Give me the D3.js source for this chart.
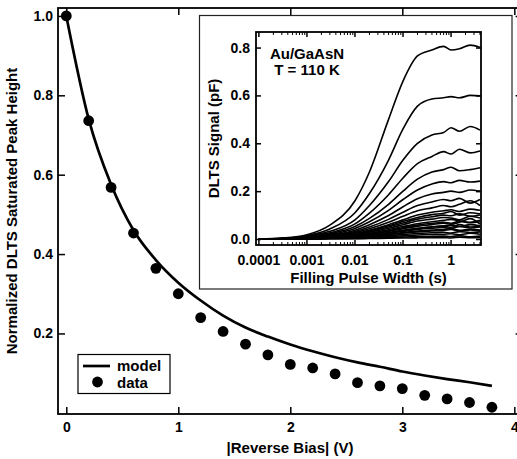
<!DOCTYPE html>
<html>
<head>
<meta charset="utf-8">
<script src="https://cdn.jsdelivr.net/npm/d3@7"></script>
<style>
  body { margin: 0; background: #fff; }
  text { font-family: "Liberation Sans", Arial, sans-serif; font-weight: bold; fill: #000; }
</style>
</head>
<body>
<div class="chart"></div>
<script>
// main plot: saturated peak height vs reverse bias
const biasV = [0, 0.2, 0.4, 0.6, 0.8, 1.0, 1.2, 1.4, 1.6, 1.8, 2.0, 2.2, 2.4, 2.6, 2.8, 3.0, 3.2, 3.4, 3.6, 3.8];
const peakData = [1.0, 0.736, 0.568, 0.453, 0.364, 0.300, 0.240, 0.205, 0.173, 0.146, 0.122, 0.113, 0.098, 0.076, 0.068, 0.061, 0.044, 0.035, 0.026, 0.014];
const peakModel = [1.0, 0.74, 0.575, 0.46, 0.385, 0.328, 0.283, 0.245, 0.215, 0.192, 0.172, 0.155, 0.140, 0.127, 0.116, 0.104, 0.094, 0.085, 0.077, 0.068];
const biasTicks = [0, 1, 2, 3, 4];
const heightTicks = [0.2, 0.4, 0.6, 0.8, 1.0];

// inset: DLTS signal vs filling pulse width, one curve per bias
const pulseWidth = [0.0001, 0.0003, 0.001, 0.003, 0.01, 0.02, 0.05, 0.1, 0.2, 0.4, 0.7, 1, 1.5, 2.5, 4];
const pulseCurves = [
  [0.000, 0.004, 0.018, 0.058, 0.160, 0.280, 0.500, 0.660, 0.765, 0.790, 0.805, 0.790, 0.795, 0.810, 0.800],
  [0.000, 0.003, 0.014, 0.042, 0.110, 0.190, 0.330, 0.460, 0.555, 0.585, 0.590, 0.595, 0.590, 0.600, 0.598],
  [0.000, 0.002, 0.011, 0.032, 0.080, 0.140, 0.240, 0.330, 0.400, 0.435, 0.445, 0.465, 0.450, 0.470, 0.455],
  [0.000, 0.002, 0.009, 0.026, 0.063, 0.108, 0.185, 0.255, 0.315, 0.345, 0.365, 0.355, 0.375, 0.360, 0.368],
  [0.000, 0.002, 0.008, 0.022, 0.052, 0.086, 0.145, 0.200, 0.250, 0.280, 0.290, 0.300, 0.285, 0.290, 0.298],
  [0.000, 0.001, 0.007, 0.019, 0.044, 0.072, 0.120, 0.165, 0.205, 0.230, 0.240, 0.235, 0.245, 0.238, 0.242],
  [0.000, 0.001, 0.006, 0.016, 0.037, 0.060, 0.098, 0.135, 0.168, 0.188, 0.195, 0.200, 0.195, 0.205, 0.200],
  [0.000, 0.001, 0.005, 0.014, 0.031, 0.050, 0.082, 0.112, 0.140, 0.155, 0.165, 0.160, 0.170, 0.150, 0.165],
  [0.000, 0.001, 0.005, 0.012, 0.027, 0.043, 0.070, 0.095, 0.118, 0.130, 0.140, 0.135, 0.145, 0.160, 0.140],
  [0.000, 0.001, 0.004, 0.011, 0.023, 0.037, 0.060, 0.080, 0.100, 0.112, 0.118, 0.122, 0.115, 0.125, 0.120],
  [0.000, 0.001, 0.004, 0.010, 0.021, 0.034, 0.055, 0.073, 0.090, 0.102, 0.108, 0.115, 0.100, 0.110, 0.105],
  [0.000, 0.001, 0.004, 0.009, 0.020, 0.031, 0.050, 0.067, 0.083, 0.093, 0.100, 0.097, 0.105, 0.095, 0.100],
  [0.000, 0.001, 0.003, 0.008, 0.018, 0.028, 0.045, 0.060, 0.075, 0.083, 0.090, 0.088, 0.080, 0.095, 0.088],
  [0.000, 0.000, 0.003, 0.007, 0.015, 0.024, 0.039, 0.052, 0.064, 0.072, 0.078, 0.082, 0.075, 0.070, 0.078],
  [0.000, 0.000, 0.003, 0.006, 0.014, 0.022, 0.035, 0.047, 0.058, 0.065, 0.070, 0.066, 0.075, 0.068, 0.072],
  [0.000, 0.000, 0.002, 0.006, 0.013, 0.020, 0.032, 0.043, 0.053, 0.060, 0.066, 0.062, 0.070, 0.085, 0.062],
  [0.000, 0.000, 0.002, 0.005, 0.011, 0.017, 0.027, 0.036, 0.045, 0.051, 0.055, 0.058, 0.052, 0.060, 0.055],
  [0.000, 0.000, 0.002, 0.004, 0.010, 0.016, 0.026, 0.035, 0.043, 0.050, 0.054, 0.049, 0.060, 0.050, 0.052],
  [0.000, 0.000, 0.002, 0.004, 0.010, 0.015, 0.024, 0.032, 0.040, 0.045, 0.048, 0.044, 0.052, 0.046, 0.050],
  [0.000, 0.000, 0.001, 0.004, 0.008, 0.012, 0.020, 0.027, 0.033, 0.037, 0.040, 0.043, 0.036, 0.041, 0.038],
  [0.000, 0.000, 0.001, 0.003, 0.007, 0.011, 0.018, 0.024, 0.030, 0.034, 0.036, 0.040, 0.033, 0.038, 0.035],
  [0.000, 0.000, 0.001, 0.003, 0.006, 0.009, 0.014, 0.019, 0.023, 0.026, 0.028, 0.025, 0.031, 0.027, 0.030],
  [0.000, 0.000, 0.001, 0.002, 0.004, 0.006, 0.010, 0.013, 0.017, 0.019, 0.020, 0.022, 0.018, 0.024, 0.020],
  [0.000, 0.000, 0.000, 0.001, 0.002, 0.004, 0.006, 0.008, 0.010, 0.011, 0.012, 0.010, 0.014, 0.009, 0.012],
  [0.000, 0.000, 0.000, 0.001, 0.001, 0.002, 0.003, 0.004, 0.005, 0.006, 0.006, 0.004, 0.008, 0.005, 0.006]
];
const pulseTicks = [0.0001, 0.001, 0.01, 0.1, 1];
const pulseTickLabels = ["0.0001", "0.001", "0.01", "0.1", "1"];
const signalTicks = [0, 0.2, 0.4, 0.6, 0.8];

const W = 517, H = 459;
const svg = d3.select(".chart").append("svg").attr("width", W).attr("height", H);

// ---- main plot ----
const x = d3.scaleLinear().domain([-0.074, 4.074]).range([58, 522.6]);
const y = d3.scaleLinear().domain([-0.003, 1.02]).range([414, 8]);

const main = svg.append("g");

main.append("g").attr("transform", "translate(0,414)")
  .call(d3.axisBottom(x).tickValues(biasTicks).tickSize(-7).tickPadding(8).tickFormat(d3.format("d")));
main.append("g").attr("transform", "translate(0,8)")
  .call(d3.axisTop(x).tickValues(biasTicks).tickSize(-7).tickFormat(""));
main.append("g").attr("transform", "translate(58,0)")
  .call(d3.axisLeft(y).tickValues(heightTicks).tickSize(-7).tickPadding(5).tickFormat(d3.format(".1f")));
main.append("g").attr("transform", "translate(522.6,0)")
  .call(d3.axisRight(y).tickValues(heightTicks).tickSize(-7).tickFormat(""));

main.selectAll(".domain").remove();
main.selectAll(".tick line").attr("stroke", "#000").attr("stroke-width", 1.5);
main.selectAll(".tick text").attr("font-size", 14).attr("font-family", "Liberation Sans, Arial").attr("font-weight", "bold");

main.append("rect")
  .attr("x", 58).attr("y", 8).attr("width", 522.6 - 58).attr("height", 414 - 8)
  .attr("fill", "none").attr("stroke", "#000").attr("stroke-width", 1.8);

main.append("path")
  .datum(biasV.map((v, i) => [v, peakModel[i]]))
  .attr("fill", "none").attr("stroke", "#000").attr("stroke-width", 2.7)
  .attr("d", d3.line().x(d => x(d[0])).y(d => y(d[1])).curve(d3.curveMonotoneX));

main.selectAll("circle.pt")
  .data(biasV.map((v, i) => [v, peakData[i]]))
  .join("circle").attr("class", "pt")
  .attr("cx", d => x(d[0])).attr("cy", d => y(d[1])).attr("r", 5.4).attr("fill", "#000");

main.append("text").attr("x", 290).attr("y", 453).attr("text-anchor", "middle")
  .attr("font-size", 15).text("|Reverse Bias| (V)");
main.append("text").attr("transform", "translate(17,211) rotate(-90)").attr("text-anchor", "middle")
  .attr("font-size", 15).text("Normalized DLTS Saturated Peak Height");

// legend
const leg = main.append("g");
leg.append("rect").attr("x", 78).attr("y", 354.5).attr("width", 92).attr("height", 39)
  .attr("fill", "#fff").attr("stroke", "#000").attr("stroke-width", 1.2);
leg.append("line").attr("x1", 83).attr("x2", 110).attr("y1", 366).attr("y2", 366)
  .attr("stroke", "#000").attr("stroke-width", 2.7);
leg.append("circle").attr("cx", 97.5).attr("cy", 382).attr("r", 5.4).attr("fill", "#000");
leg.append("text").attr("x", 117).attr("y", 370.5).attr("font-size", 15).text("model");
leg.append("text").attr("x", 117).attr("y", 387.5).attr("font-size", 15).text("data");

// ---- inset ----
const inset = svg.append("g");
inset.append("rect").attr("x", 199.5).attr("y", 15.5).attr("width", 312.5).attr("height", 273.5)
  .attr("fill", "#fff").attr("stroke", "#222").attr("stroke-width", 1.2);

const ix = d3.scaleLog().domain([8.7e-5, 4.2]).range([256, 481]);
const iy = d3.scaleLinear().domain([-0.025, 0.865]).range([245, 32]);

const minorTicks = [];
pulseTicks.forEach(t => { for (let k = 2; k <= 9; k++) if (t * k <= 4.2) minorTicks.push(t * k); });

function xTicks(g, yPos, dir) {
  g.selectAll("line.maj").data(pulseTicks).join("line").attr("class", "maj")
    .attr("x1", d => ix(d)).attr("x2", d => ix(d)).attr("y1", yPos).attr("y2", yPos + dir * 5)
    .attr("stroke", "#000").attr("stroke-width", 1.5);
  g.selectAll("line.min").data(minorTicks).join("line").attr("class", "min")
    .attr("x1", d => ix(d)).attr("x2", d => ix(d)).attr("y1", yPos).attr("y2", yPos + dir * 3)
    .attr("stroke", "#000").attr("stroke-width", 1);
}
xTicks(inset.append("g"), 245, -1);
xTicks(inset.append("g"), 32, 1);

inset.append("g").attr("transform", "translate(256,0)")
  .call(d3.axisLeft(iy).tickValues(signalTicks).tickSize(-5).tickPadding(6).tickFormat(d3.format(".1f")));
inset.append("g").attr("transform", "translate(481,0)")
  .call(d3.axisRight(iy).tickValues(signalTicks).tickSize(-5).tickFormat(""));
inset.selectAll(".domain").remove();
inset.selectAll(".tick line").attr("stroke", "#000").attr("stroke-width", 1.5);
inset.selectAll(".tick text").attr("font-size", 14).attr("font-family", "Liberation Sans, Arial").attr("font-weight", "bold");

inset.selectAll("text.xl").data(pulseTicks).join("text").attr("class", "xl")
  .attr("x", d => ix(d)).attr("y", 265).attr("text-anchor", "middle").attr("font-size", 14)
  .text((d, i) => pulseTickLabels[i]);

const clip = inset.append("clipPath").attr("id", "iclip");
clip.append("rect").attr("x", 256).attr("y", 32).attr("width", 225).attr("height", 213);

const curveG = inset.append("g").attr("clip-path", "url(#iclip)");
curveG.selectAll("path").data(pulseCurves).join("path")
  .attr("fill", "none").attr("stroke", "#000").attr("stroke-width", 1.6)
  .attr("d", d3.line().x((d, i) => ix(pulseWidth[i])).y(d => iy(d)).curve(d3.curveMonotoneX));

inset.append("rect").attr("x", 256).attr("y", 32).attr("width", 225).attr("height", 213)
  .attr("fill", "none").attr("stroke", "#000").attr("stroke-width", 1.8);

inset.append("text").attr("x", 368.5).attr("y", 283).attr("text-anchor", "middle")
  .attr("font-size", 15).text("Filling Pulse Width (s)");
inset.append("text").attr("transform", "translate(219,138.5) rotate(-90)").attr("text-anchor", "middle")
  .attr("font-size", 15).text("DLTS Signal (pF)");
inset.append("text").attr("x", 307).attr("y", 59).attr("text-anchor", "middle")
  .attr("font-size", 15).text("Au/GaAsN");
inset.append("text").attr("x", 307).attr("y", 75).attr("text-anchor", "middle")
  .attr("font-size", 15).text("T = 110 K");
</script>
</body>
</html>
